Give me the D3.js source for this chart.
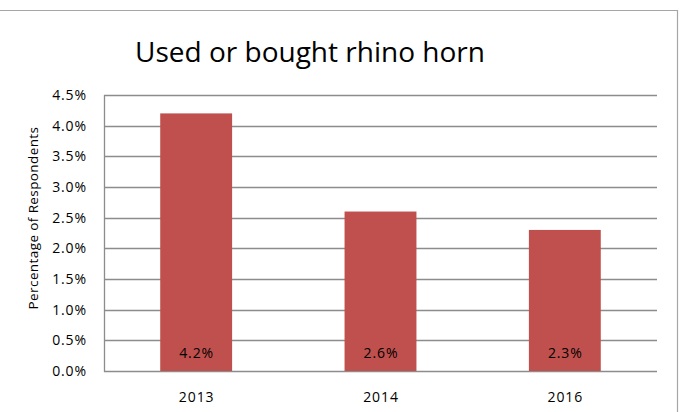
<!DOCTYPE html>
<html><head><meta charset="utf-8">
<script src="https://cdn.jsdelivr.net/npm/d3@7"></script>
<style>
html,body{margin:0;padding:0;background:#fff;}
svg{display:block;font-family:"Open Sans","Noto Sans",sans-serif;}
</style></head>
<body>
<svg id="chart" width="681" height="412"></svg>
<script>
const categories = ["2013", "2014", "2016"];
const values = [4.2, 2.6, 2.3];
const valueLabels = ["4.2%", "2.6%", "2.3%"];
const yTicks = [0, 0.5, 1.0, 1.5, 2.0, 2.5, 3.0, 3.5, 4.0, 4.5];
const yTickLabels = ["0.0%", "0.5%", "1.0%", "1.5%", "2.0%", "2.5%", "3.0%", "3.5%", "4.0%", "4.5%"];
const title = "Used or bought rhino horn";
const yTitle = "Percentage of Respondents";

const svg = d3.select("#chart");
const m = {left: 104, right: 657, top: 95, bottom: 371};

// outer chart border
svg.append("path").attr("d", "M0,10.5 H677.5 V412")
  .attr("fill", "none").attr("stroke", "#a6a6a6").attr("stroke-width", 1.2);

const x = d3.scaleBand().domain(categories).range([m.left, m.right]).padding(0);
const y = d3.scaleLinear().domain([0, 4.5]).range([m.bottom, m.top]);

// gridlines
svg.append("g").selectAll("line").data(yTicks).join("line")
  .attr("x1", m.left).attr("x2", m.right)
  .attr("y1", d => Math.round(y(d)) + 0.5).attr("y2", d => Math.round(y(d)) + 0.5)
  .attr("stroke", "#8c8c8c").attr("stroke-width", 1.3);

// y axis line
svg.append("line").attr("x1", m.left + 0.5).attr("x2", m.left + 0.5)
  .attr("y1", m.top).attr("y2", m.bottom + 1)
  .attr("stroke", "#8c8c8c").attr("stroke-width", 1.3);

// y tick labels
svg.append("g").selectAll("text").data(yTicks).join("text")
  .attr("x", 87).attr("y", d => y(d))
  .attr("dy", "0.35em").attr("text-anchor", "end")
  .attr("font-size", 14).attr("letter-spacing", 0.9).attr("fill", "#000")
  .text((d, i) => yTickLabels[i]);

// bars
const bw = x.bandwidth() * 0.39;
svg.append("g").selectAll("rect").data(values).join("rect")
  .attr("x", (d, i) => x(categories[i]) + x.bandwidth() / 2 - bw / 2)
  .attr("width", bw)
  .attr("y", d => y(d))
  .attr("height", d => y(0) - y(d))
  .attr("fill", "#C0504D");

// data labels
svg.append("g").selectAll("text").data(values).join("text")
  .attr("x", (d, i) => x(categories[i]) + x.bandwidth() / 2 + 0.5)
  .attr("y", y(0) - 17.5)
  .attr("dy", "0.35em").attr("text-anchor", "middle")
  .attr("font-size", 14).attr("letter-spacing", 0.9).attr("fill", "#000")
  .text((d, i) => valueLabels[i]);

// category labels
svg.append("g").selectAll("text").data(categories).join("text")
  .attr("x", d => x(d) + x.bandwidth() / 2 + 0.5)
  .attr("y", 397)
  .attr("dy", "0.35em").attr("text-anchor", "middle")
  .attr("font-size", 14).attr("letter-spacing", 0.9).attr("fill", "#000")
  .text(d => d);

// title
svg.append("text").attr("x", 310).attr("y", 62)
  .attr("text-anchor", "middle")
  .attr("font-size", 28).attr("fill", "#000").text(title);

// y axis title
svg.append("text").attr("transform", "translate(33,218) rotate(-90)")
  .attr("dy", "0.35em").attr("text-anchor", "middle")
  .attr("font-size", 13.5).attr("letter-spacing", 0.4).attr("fill", "#000").text(yTitle);
</script>
</body></html>
